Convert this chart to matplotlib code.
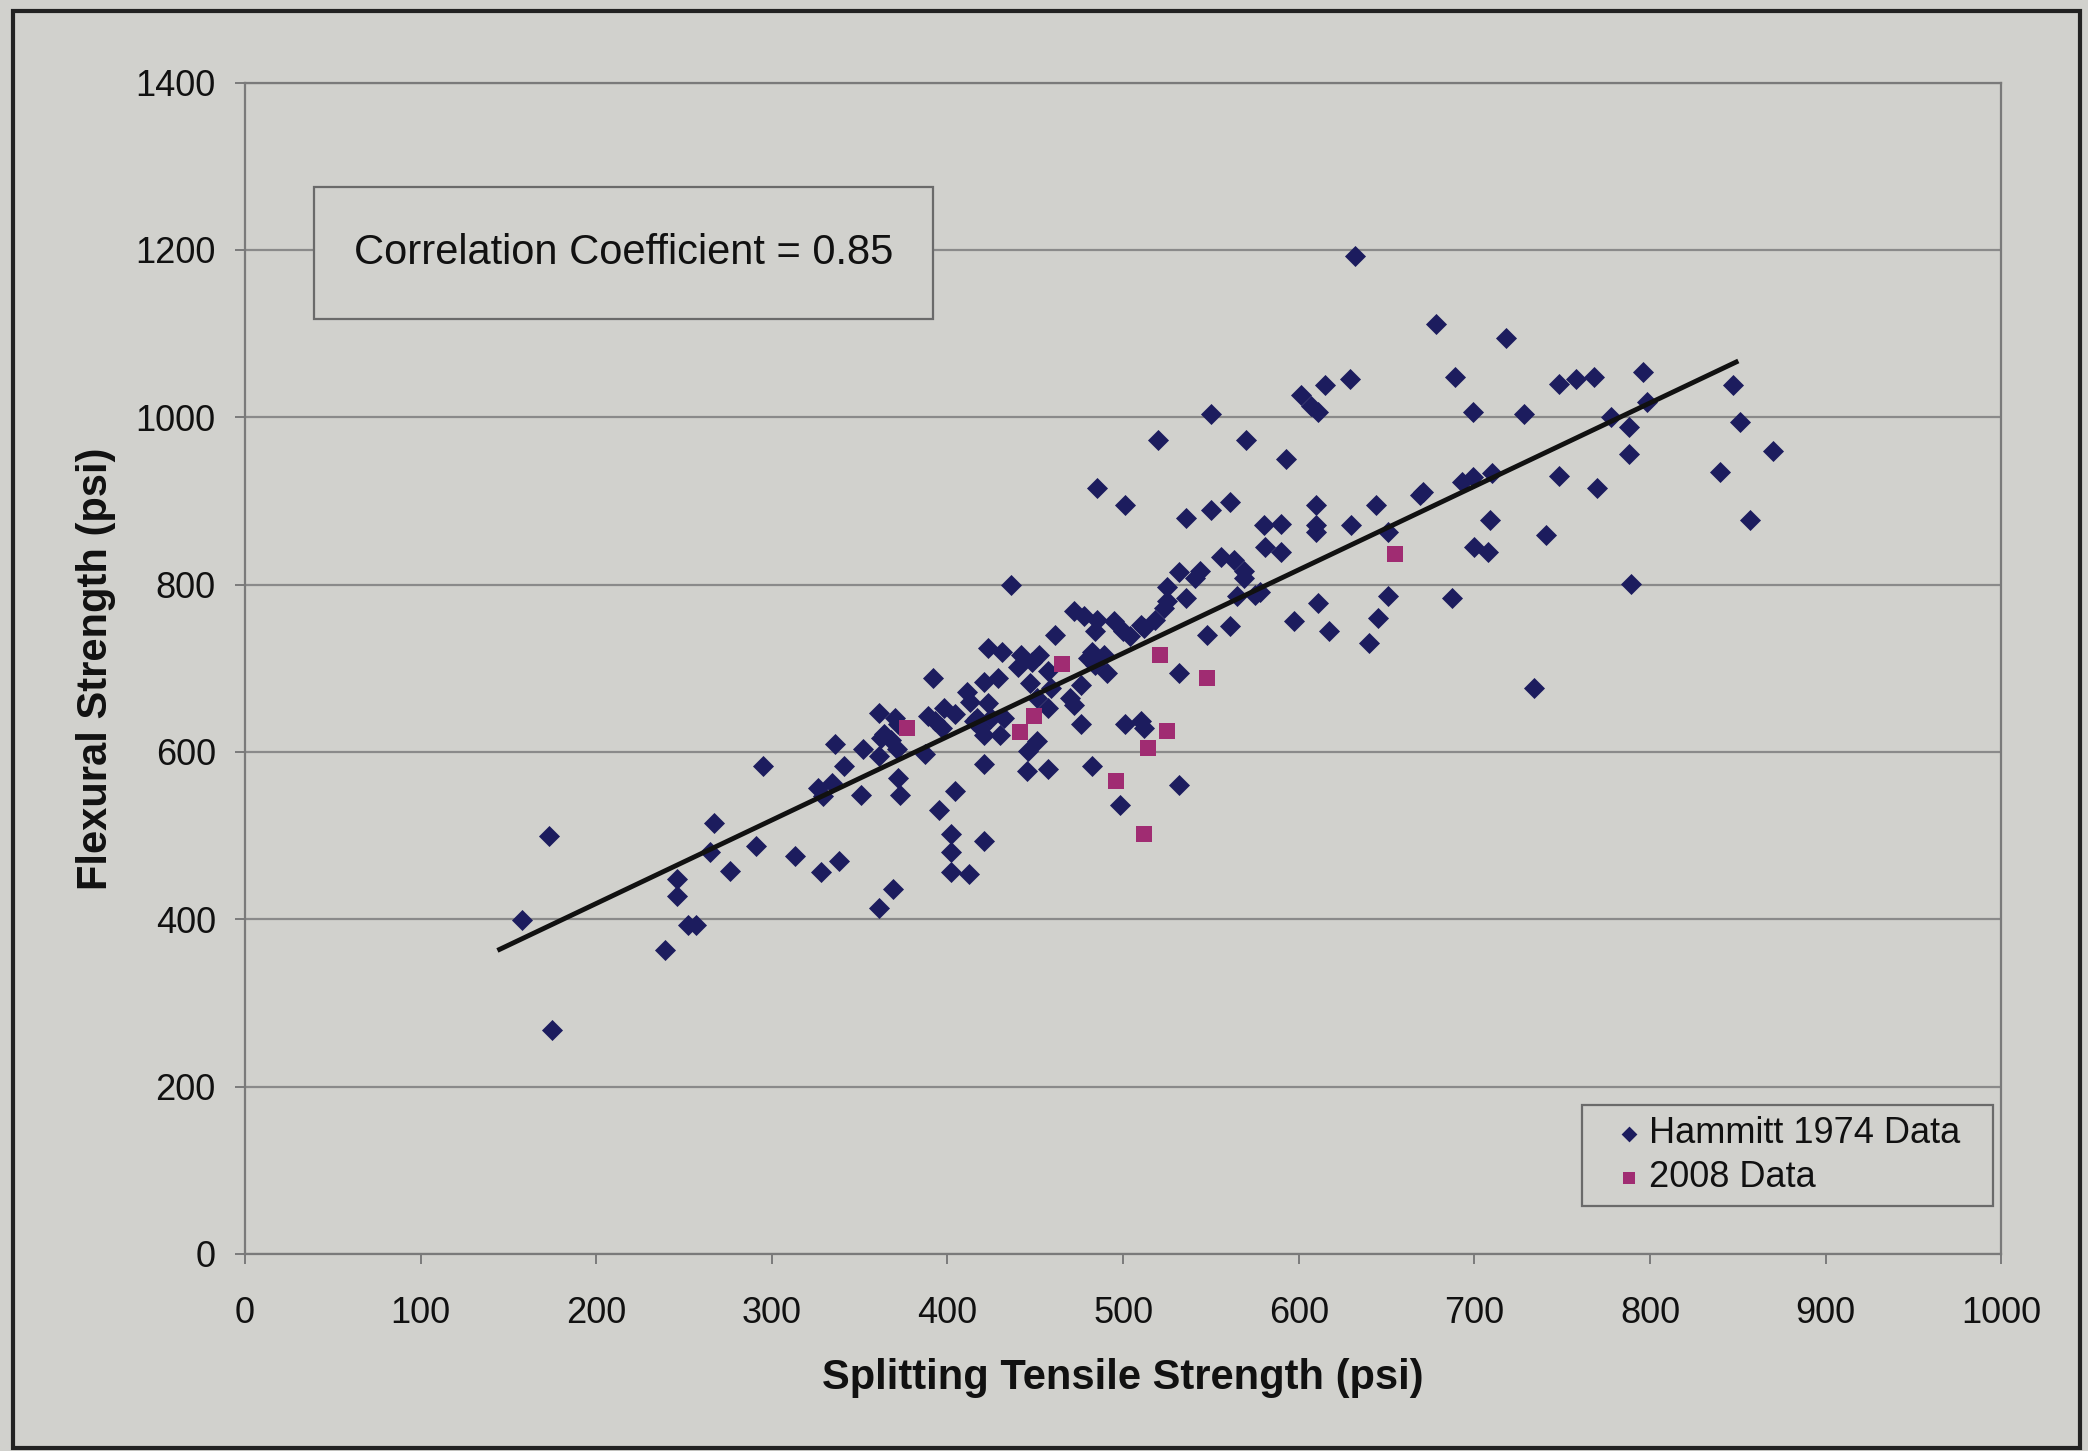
import matplotlib
matplotlib.use("Agg")
import matplotlib.pyplot as plt
from matplotlib.patches import Rectangle

plt.rcParams['font.family'] = ['Liberation Sans', 'DejaVu Sans']

# ---- data (psi) ----
hammitt_x = [158, 173, 175, 239, 246, 246, 252, 257, 265, 267, 276, 291, 295, 313, 326, 329, 334, 336,
             338, 328, 341, 351, 352, 361, 361, 361, 362, 364, 368, 369, 370, 372, 371, 372, 373, 387,
             389, 393, 397, 392, 395, 398, 404, 404, 402, 402, 402, 412, 421, 411, 413, 417, 415, 419,
             421, 421, 430, 421, 423, 423, 425, 432, 429, 431, 436, 442, 448, 452, 440, 447, 446, 451,
             445, 457, 457, 459, 457, 451, 461, 470, 472, 472, 476, 476, 478, 480, 482, 484, 485, 482,
             489, 484, 491, 495, 498, 500, 501, 504, 510, 510, 512, 512, 518, 523, 525, 525, 532, 532,
             532, 536, 541, 544, 548, 550, 550, 556, 561, 561, 563, 565, 569, 569, 570, 575, 578, 580,
             581, 590, 590, 593, 597, 601, 607, 611, 610, 610, 610, 611, 615, 617, 630, 629, 632, 640,
             644, 645, 651, 651, 669, 671, 678, 687, 689, 693, 699, 699, 700, 708, 709, 710, 718, 728,
             734, 741, 748, 748, 758, 768, 770, 778, 788, 788, 789, 796, 798, 840, 847, 851, 857, 870,
             485, 501, 520, 536]
hammitt_y = [399, 500, 268, 363, 448, 428, 393, 393, 480, 515, 458, 488, 583, 476, 557, 547, 563, 609,
             470, 456, 583, 549, 603, 595, 647, 413, 617, 621, 614, 436, 641, 633, 604, 569, 549, 597,
             643, 637, 629, 688, 530, 653, 645, 553, 502, 480, 456, 454, 494, 672, 660, 641, 637, 629,
             683, 620, 620, 585, 724, 659, 641, 641, 688, 720, 800, 716, 708, 716, 701, 682, 601, 613,
             577, 580, 697, 676, 653, 664, 740, 664, 768, 656, 680, 633, 762, 712, 583, 744, 758, 720,
             716, 704, 694, 756, 536, 744, 633, 738, 637, 752, 748, 629, 758, 772, 780, 797, 815, 694,
             561, 784, 808, 816, 740, 1004, 889, 833, 750, 899, 829, 786, 816, 808, 973, 788, 791, 871,
             845, 873, 839, 950, 756, 1026, 1014, 1006, 895, 871, 863, 778, 1038, 744, 871, 1046, 1193, 730,
             895, 760, 863, 786, 907, 911, 1111, 784, 1048, 923, 929, 1006, 845, 839, 877, 933, 1095, 1004,
             676, 859, 1040, 930, 1046, 1048, 915, 1000, 988, 956, 801, 1054, 1018, 935, 1038, 994, 877, 960,
             915, 895, 973, 879]

data2008_x = [377, 441, 449, 465, 496, 512, 514, 521, 525, 548, 655]
data2008_y = [629, 624, 643, 705, 565, 502, 605, 716, 625, 688, 837]

trend_x = [145, 849]
trend_y = [364, 1066]

x_ticks = [0, 100, 200, 300, 400, 500, 600, 700, 800, 900, 1000]
y_ticks = [0, 200, 400, 600, 800, 1000, 1200, 1400]

BG = '#d1d1cd'
GRID = '#8a8a8a'
NAVY = '#1c1c5e'
MAGENTA = '#a02c72'
TXT = '#111111'

fig = plt.figure(figsize=(20.88, 14.51), dpi=100, facecolor=BG)
ax = fig.add_axes([0.1173, 0.1358, 0.8412, 0.8073], facecolor=BG)

ax.set_xlim(0, 1000)
ax.set_ylim(0, 1400)
ax.set_xticks(x_ticks)
ax.set_yticks(y_ticks)
ax.grid(axis='y', color=GRID, lw=1.6)
ax.set_axisbelow(True)
for s in ax.spines.values():
    s.set_color('#7a7a7a')
    s.set_linewidth(1.6)
ax.tick_params(direction='out', length=7, width=1.4, color='#7a7a7a',
               labelsize=26, labelcolor=TXT)
ax.tick_params(axis='y', pad=14)
ax.tick_params(axis='x', pad=23)

ax.scatter(hammitt_x, hammitt_y, marker='D', s=115, color=NAVY, linewidths=0,
           label='Hammitt 1974 Data', zorder=3)
ax.scatter(data2008_x, data2008_y, marker='s', s=125, color=MAGENTA, linewidths=0,
           label='2008 Data', zorder=4)
ax.plot(trend_x, trend_y, color='#111111', lw=3.5, zorder=5)

ax.set_xlabel('Splitting Tensile Strength (psi)', fontsize=30, fontweight='bold',
              color=TXT, labelpad=20)
ax.set_ylabel('Flexural Strength (psi)', fontsize=30, fontweight='bold',
              color=TXT, labelpad=14)

# correlation box
ax.add_patch(Rectangle((0.0394, 0.798), 0.3526, 0.113, transform=ax.transAxes,
                       fill=True, facecolor=BG, edgecolor='#6a6a6a', lw=1.6, zorder=6))
ax.text(0.2157, 0.8545, 'Correlation Coefficient = 0.85', transform=ax.transAxes,
        ha='center', va='center', fontsize=30, color=TXT, zorder=7)

# legend box + entries
ax.add_patch(Rectangle((0.761, 0.041), 0.2345, 0.086, transform=ax.transAxes,
                       fill=True, facecolor=BG, edgecolor='#6a6a6a', lw=1.6, zorder=6))
leg = ax.legend(loc='center', bbox_to_anchor=(0.879, 0.084), borderaxespad=0,
                fontsize=26, frameon=False, markerscale=0.75, handlelength=0.6,
                handletextpad=0.25, borderpad=0.0, labelspacing=0.25)
leg.set_zorder(7)
for t in leg.get_texts():
    t.set_color(TXT)

# outer frame
fig.add_artist(Rectangle((0.0064, 0.002), 0.9896, 0.9907, transform=fig.transFigure,
                         fill=False, edgecolor='#222222', lw=3))

fig.savefig('out.png', dpi=100, facecolor=BG)
